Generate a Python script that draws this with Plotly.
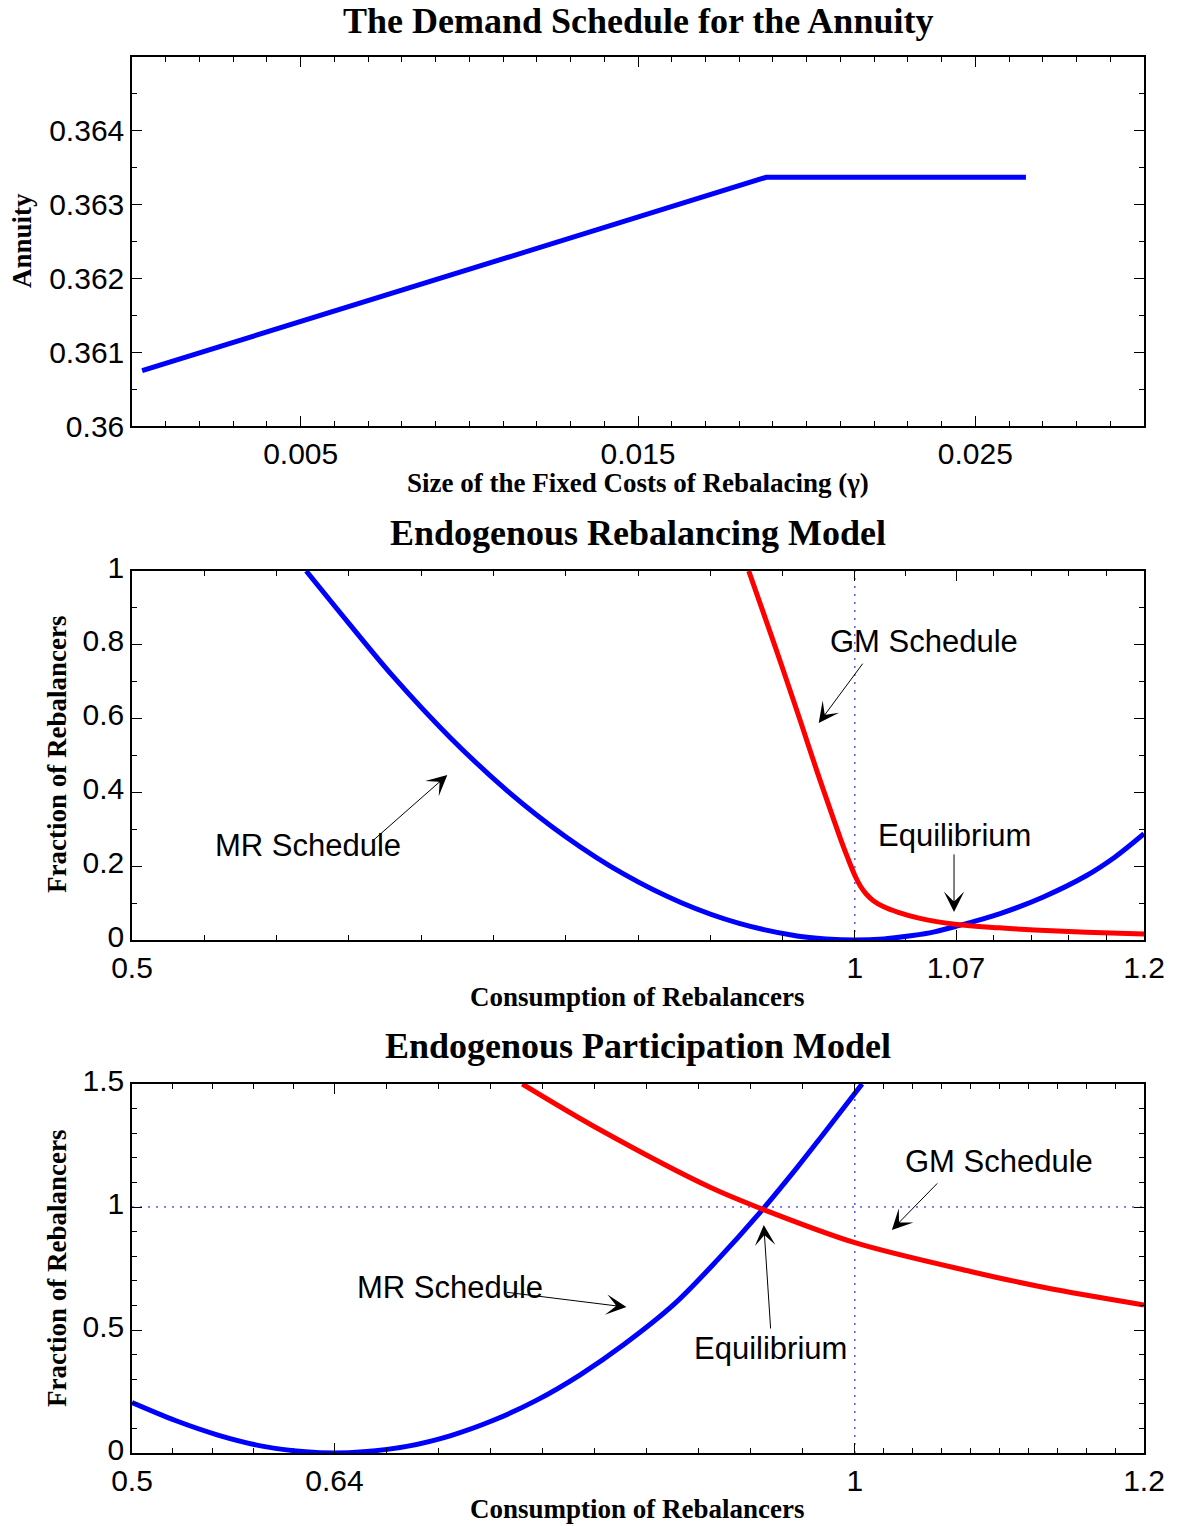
import numpy as np
import plotly.graph_objects as go
from plotly.subplots import make_subplots

W, H = 1179, 1526

# ---------------- data ----------------
# Panel 1: demand schedule for the annuity
gamma = [0.0003, 0.005, 0.010, 0.015, 0.0188, 0.022, 0.0265]
annuity = [0.36075, 0.36142, 0.36213, 0.36284, 0.36337, 0.36337, 0.36337]

# Panel 2: endogenous rebalancing model
c2_mr = [0.6205, 0.650, 0.680, 0.720, 0.760, 0.800, 0.840, 0.880, 0.920, 0.960, 0.980,
         1.000, 1.020, 1.040, 1.055, 1.070, 1.100, 1.130, 1.160, 1.180, 1.200]
f2_mr = [1.000, 0.858, 0.717, 0.549, 0.403, 0.280, 0.179, 0.101, 0.045, 0.011, 0.003,
         0.000, 0.003, 0.012, 0.022, 0.037, 0.071, 0.116, 0.174, 0.225, 0.288]
c2_gm = [0.9266, 0.940, 0.951, 0.9626, 0.974, 0.9855, 0.990, 0.995, 1.000, 1.004,
         1.008, 1.013, 1.020, 1.030, 1.0436, 1.0706, 1.100, 1.124, 1.160, 1.200]
f2_gm = [1.000, 0.850, 0.725, 0.590, 0.455, 0.325, 0.275, 0.223, 0.175, 0.145,
         0.124, 0.106, 0.090, 0.075, 0.060, 0.042, 0.033, 0.027, 0.021, 0.016]

# Panel 3: endogenous participation model
c3_mr = [0.50, 0.53, 0.56, 0.59, 0.62, 0.64, 0.66, 0.69, 0.72, 0.75, 0.78, 0.81,
         0.84, 0.875, 0.905, 0.934, 0.96, 0.978, 1.005]
f3_mr = [0.205, 0.132, 0.072, 0.028, 0.005, 0.0, 0.005, 0.027, 0.070, 0.133, 0.215,
         0.318, 0.440, 0.605, 0.785, 0.975, 1.160, 1.295, 1.500]
c3_gm = [0.770, 0.824, 0.901, 0.934, 1.000, 1.080, 1.132, 1.200]
f3_gm = [1.500, 1.313, 1.077, 0.996, 0.855, 0.738, 0.672, 0.602]

# ticks
x1_major = [0.005, 0.015, 0.025]
x1_labels = ["0.005", "0.015", "0.025"]
y1_major = [0.360, 0.361, 0.362, 0.363, 0.364]
y1_labels = ["0.36", "0.361", "0.362", "0.363", "0.364"]
x2_major = [0.5, 1.0, 1.07, 1.2]
x2_labels = ["0.5", "1", "1.07", "1.2"]
y2_major = [0, 0.2, 0.4, 0.6, 0.8, 1.0]
y2_labels = ["0", "0.2", "0.4", "0.6", "0.8", "1"]
x3_major = [0.5, 0.64, 1.0, 1.2]
x3_labels = ["0.5", "0.64", "1", "1.2"]
y3_major = [0, 0.5, 1.0, 1.5]
y3_labels = ["0", "0.5", "1", "1.5"]

x1_minor = [round(0.001 * i, 4) for i in range(1, 30) if i not in (5, 15, 25)]
y1_minor = [0.3605, 0.3615, 0.3625, 0.3635, 0.3645]
x2_minor = [0.55, 0.60, 0.65, 0.70, 0.75, 0.80, 0.85, 0.90, 0.95, 1.035,
            1.096, 1.122, 1.148, 1.174]
y2_minor = [0.1, 0.3, 0.5, 0.7, 0.9]
x3_minor = [0.528, 0.556, 0.584, 0.612] + [round(0.64 + 0.036 * i, 4) for i in range(1, 10)] \
           + [round(1.0 + 0.02 * i, 4) for i in range(1, 10)]
y3_minor = [0.1, 0.2, 0.3, 0.4, 0.6, 0.7, 0.8, 0.9, 1.1, 1.2, 1.3, 1.4]

BLUE = "#0000ff"
RED = "#ff0000"
TICKFONT = dict(family="Liberation Sans, Arial, sans-serif", size=30, color="black")
ANNFONT = dict(family="Liberation Sans, Arial, sans-serif", size=31, color="black")
TITLEFONT = dict(family="Liberation Serif, Times New Roman, serif", size=36, color="black")
AXFONT = dict(family="Liberation Serif, Times New Roman, serif", size=27, color="black")

fig = make_subplots(rows=3, cols=1)

fig.add_trace(go.Scatter(x=gamma, y=annuity, mode="lines",
                         line=dict(color=BLUE, width=5), showlegend=False), row=1, col=1)

DOT = dict(color=BLUE, width=1, dash="2px,6px")
SMOOTH = dict(width=5, smoothing=0.9)
# panel 2
fig.add_trace(go.Scatter(x=[1, 1], y=[0, 1], mode="lines", line=DOT, showlegend=False), row=2, col=1)
fig.add_trace(go.Scatter(x=c2_mr, y=f2_mr, mode="lines", line_shape="spline",
                         line=dict(color=BLUE, **SMOOTH), showlegend=False), row=2, col=1)
fig.add_trace(go.Scatter(x=c2_gm, y=f2_gm, mode="lines", line_shape="spline",
                         line=dict(color=RED, **SMOOTH), showlegend=False), row=2, col=1)

# panel 3
fig.add_trace(go.Scatter(x=[1, 1], y=[0, 1.5], mode="lines", line=DOT, showlegend=False), row=3, col=1)
fig.add_trace(go.Scatter(x=[0.5, 1.2], y=[1, 1], mode="lines", line=DOT, showlegend=False), row=3, col=1)
fig.add_trace(go.Scatter(x=c3_mr, y=f3_mr, mode="lines", line_shape="spline",
                         line=dict(color=BLUE, **SMOOTH), showlegend=False), row=3, col=1)
fig.add_trace(go.Scatter(x=c3_gm, y=f3_gm, mode="lines", line_shape="spline",
                         line=dict(color=RED, **SMOOTH), showlegend=False), row=3, col=1)

X0, X1 = 132, 1144


def px_x(x):
    return x / W


def px_y(y):
    return 1 - y / H


def ydom(top, bottom):
    return [px_y(bottom), px_y(top)]


def axis_common(major, labels, minor, shift=0):
    return dict(tickmode="array", tickvals=major, ticktext=labels,
                ticks="inside", ticklen=10, tickwidth=1, tickcolor="black",
                minor=dict(tickmode="array", tickvals=minor, ticks="inside",
                           ticklen=5, tickwidth=1, tickcolor="black", showgrid=False),
                showline=True, linecolor="black", linewidth=1.5, mirror="ticks",
                showgrid=False, zeroline=False, tickfont=TICKFONT, automargin=False,
                ticklabelshift=shift)


XDOM = [px_x(X0), px_x(X1)]
fig.update_layout(
    xaxis=dict(domain=XDOM, range=[0, 0.03], **axis_common(x1_major, x1_labels, x1_minor)),
    yaxis=dict(domain=ydom(57, 426), range=[0.360, 0.365],
               **axis_common(y1_major, y1_labels, y1_minor)),
    xaxis2=dict(domain=XDOM, range=[0.5, 1.2], **axis_common(x2_major, x2_labels, x2_minor)),
    yaxis2=dict(domain=ydom(571, 940), range=[0, 1],
                **axis_common(y2_major, y2_labels, y2_minor, shift=-4)),
    xaxis3=dict(domain=XDOM, range=[0.5, 1.2], **axis_common(x3_major, x3_labels, x3_minor)),
    yaxis3=dict(domain=ydom(1084, 1453), range=[0, 1.5],
                **axis_common(y3_major, y3_labels, y3_minor, shift=-4)),
)

anns = []


def paper_text(text, xpx, ypx, font, angle=0):
    anns.append(dict(text=text, xref="paper", yref="paper", x=px_x(xpx), y=px_y(ypx),
                     xanchor="center", yanchor="middle", showarrow=False,
                     font=font, textangle=angle))


# titles
paper_text("<b>The Demand Schedule for the Annuity</b>", 638, 21, TITLEFONT)
paper_text("<b>Endogenous Rebalancing Model</b>", 638, 533, TITLEFONT)
paper_text("<b>Endogenous Participation Model</b>", 638, 1046, TITLEFONT)
# axis titles
paper_text("<b>Size of the Fixed Costs of Rebalacing (γ)</b>", 638, 483, AXFONT)
paper_text("<b>Consumption of Rebalancers</b>", 638, 997, AXFONT)
paper_text("<b>Consumption of Rebalancers</b>", 638, 1509, AXFONT)
paper_text("<b>Annuity</b>", 22, 241, AXFONT, -90)
paper_text("<b>Fraction of Rebalancers</b>", 57, 755, AXFONT, -90)
paper_text("<b>Fraction of Rebalancers</b>", 57, 1269, AXFONT, -90)


def data_text(text, x, y, ax):
    anns.append(dict(text=text, xref="x" + ax, yref="y" + ax, x=x, y=y,
                     xanchor="center", yanchor="middle", showarrow=False, font=ANNFONT))


def arrow(x_tail, y_tail, x_head, y_head, ax):
    anns.append(dict(text="", xref="x" + ax, yref="y" + ax, axref="x" + ax, ayref="y" + ax,
                     x=x_head, y=y_head, ax=x_tail, ay=y_tail, showarrow=True,
                     arrowhead=3, arrowsize=3.4, arrowwidth=1, arrowcolor="black",
                     standoff=0, startstandoff=0))


# panel 2 labels
data_text("MR Schedule", 0.6219, 0.257, "2")
arrow(0.6648, 0.263, 0.7181, 0.447, "2")
data_text("GM Schedule", 1.048, 0.808, "2")
arrow(1.0062, 0.753, 0.975, 0.588, "2")
data_text("Equilibrium", 1.0686, 0.282, "2")
arrow(1.0686, 0.236, 1.0686, 0.076, "2")

# panel 3 labels
data_text("MR Schedule", 0.7199, 0.671, "3")
arrow(0.7583, 0.654, 0.842, 0.593, "3")
data_text("GM Schedule", 1.0994, 1.187, "3")
arrow(1.058, 1.102, 1.0256, 0.907, "3")
data_text("Equilibrium", 0.9418, 0.423, "3")
arrow(0.9418, 0.50, 0.937, 0.927, "3")

fig.update_layout(annotations=anns, width=W, height=H,
                  margin=dict(l=0, r=0, t=0, b=0, pad=0, autoexpand=False),
                  paper_bgcolor="white", plot_bgcolor="white", showlegend=False)

fig.write_html("out.html", config={"displayModeBar": False},
               post_script="document.body.style.margin='0px';")
